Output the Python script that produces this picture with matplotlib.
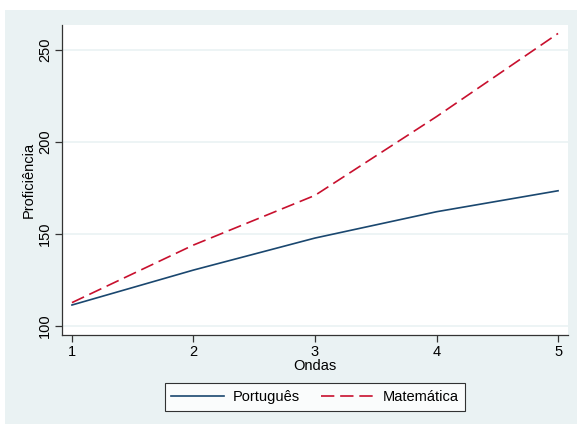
import matplotlib
matplotlib.use("Agg")
import matplotlib.pyplot as plt
from matplotlib.patches import Rectangle

ondas = [1, 2, 3, 4, 5]
portugues = [111.4, 130.4, 147.8, 162.1, 173.5]
matematica = [112.7, 144.0, 171.0, 213.8, 259.0]
yticks = [100, 150, 200, 250]

plt.rcParams['font.family'] = ['Liberation Sans', 'DejaVu Sans']

W, H = 577, 424
fig = plt.figure(figsize=(W/100, H/100), dpi=100)
fig.patch.set_facecolor('white')
bg = '#eaf2f3'
fig.patches.append(Rectangle((5/W, 0), 1 - 5/W, 1 - 10/H, transform=fig.transFigure,
                             facecolor=bg, edgecolor='none', zorder=-10))

ax = fig.add_axes([62/W, (H-335)/H, (568-62)/W, (335-25)/H])
ax.set_facecolor('white')
ax.plot(ondas, portugues, color='#1a476f', lw=1.2, label='Português')
ax.plot(ondas, matematica, color='#c8102e', lw=1.2, dashes=(8, 3.5), label='Matemática')

ax.set_xlim(0.918, 5.082)
ax.set_ylim(95.1, 263.6)
ax.set_xticks(ondas)
ax.set_yticks(yticks)
ax.set_yticklabels([str(v) for v in yticks], rotation=90, va='center')
ax.grid(axis='y', color=bg, lw=1.2)
ax.set_axisbelow(True)
for s in ['top', 'right']:
    ax.spines[s].set_visible(False)
for s in ['left', 'bottom']:
    ax.spines[s].set_color('#333333')
    ax.spines[s].set_linewidth(0.9)
ax.tick_params(axis='both', length=5, width=0.9, color='#333333', labelsize=10.5, pad=2)
ax.set_xlabel('Ondas', fontsize=10.5, labelpad=0)
ax.set_ylabel('Proficiência', fontsize=10.5, labelpad=2)

leg = fig.legend(loc='center', bbox_to_anchor=(315/W, (H-397)/H), ncol=2, fontsize=10.5,
                 frameon=True, fancybox=False, edgecolor='black', handlelength=3.6,
                 columnspacing=1.5, borderpad=0.45, handletextpad=0.6)
leg.get_frame().set_linewidth(0.8)
leg.get_frame().set_facecolor('white')

fig.savefig('out.png', dpi=100, facecolor=fig.get_facecolor())
